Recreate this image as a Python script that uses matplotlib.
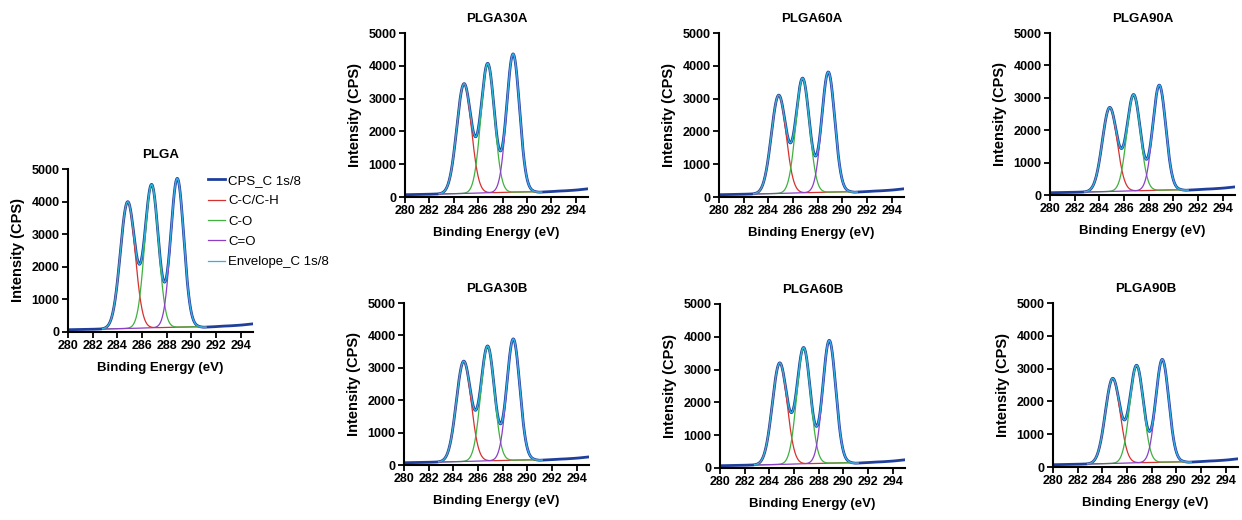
import numpy as np
import matplotlib
matplotlib.use("Agg")
import matplotlib.pyplot as plt

plt.rcParams['font.family'] = ['Liberation Sans', 'DejaVu Sans']

# ---- data ----
panels = ['PLGA', 'PLGA30A', 'PLGA60A', 'PLGA90A', 'PLGA30B', 'PLGA60B', 'PLGA90B']

# fitted C 1s components: C-C/C-H, C-O, C=O (peak centre and FWHM, eV)
peak_centers = [284.84, 286.78, 288.86]
peak_fwhm = [1.40, 1.30, 1.24]

# net peak heights above background (CPS)
heights_cc = [3880, 3340, 2990, 2590, 3090, 3090, 2590]
heights_co = [4380, 3930, 3480, 2960, 3530, 3530, 2960]
heights_c_o = [4560, 4210, 3660, 3240, 3740, 3740, 3130]

# background under the spectrum (CPS), 0.5 eV steps from 280 to 295
bg_energy = np.arange(280, 295.01, 0.5)
bg_cps = [70, 75, 78, 80, 85, 88, 92, 95, 100, 105, 110, 115, 120, 125, 130, 135,
          140, 145, 150, 155, 160, 160, 145, 160, 165, 180, 185, 200, 210, 230, 250]

fit_range = (282.8, 291.2)

legend_labels = ['CPS_C 1s/8', 'C-C/C-H', 'C-O', 'C=O', 'Envelope_C 1s/8']
colors = {'cps': '#1f3f9a', 'cc': '#d6312f', 'co': '#3fb13f', 'c_o': '#8a3fc4', 'env': '#27b6e6'}

W, H = 1242, 520
# axes boxes in pixels: left, top, right, bottom
boxes = [(68, 169, 253, 332),
         (405, 33, 588, 197), (719, 33, 904, 197), (1050, 33, 1235, 195),
         (404, 303, 589, 465), (720, 304, 905, 468), (1053, 303, 1238, 467)]


def peak(x, c, fwhm, h):
    s = fwhm / 2.3548
    return h * np.exp(-(x - c) ** 2 / (2 * s ** 2))


fig = plt.figure(figsize=(W / 100, H / 100), dpi=100)
x = np.linspace(280, 295, 1200)
bg = np.interp(x, bg_energy, bg_cps)
m = (x >= fit_range[0]) & (x <= fit_range[1])

for i, name in enumerate(panels):
    l, t, r, b = boxes[i]
    ax = fig.add_axes([l / W, 1 - b / H, (r - l) / W, (b - t) / H])
    hs = [heights_cc[i], heights_co[i], heights_c_o[i]]
    comps = [peak(x, peak_centers[k], peak_fwhm[k], hs[k]) for k in range(3)]
    env = bg + comps[0] + comps[1] + comps[2]

    l_cps, = ax.plot(x, env, color=colors['cps'], lw=2.0)
    l_cc, = ax.plot(x[m], (bg + comps[0])[m], color=colors['cc'], lw=0.9)
    l_co, = ax.plot(x[m], (bg + comps[1])[m], color=colors['co'], lw=0.9)
    l_c_o, = ax.plot(x[m], (bg + comps[2])[m], color=colors['c_o'], lw=0.9)
    l_env, = ax.plot(x[m], env[m], color=colors['env'], lw=0.9)

    ax.set_xlim(280, 295)
    ax.set_ylim(0, 5000)
    ax.set_xticks(np.arange(280, 295, 2))
    ax.set_yticks(np.arange(0, 5001, 1000))
    for s in ['top', 'right']:
        ax.spines[s].set_visible(False)
    for s in ['left', 'bottom']:
        ax.spines[s].set_linewidth(1.5)
    ax.tick_params(width=1.3, length=4, labelsize=9, pad=2)
    for lab in ax.get_xticklabels() + ax.get_yticklabels():
        lab.set_fontweight('bold')
    ax.set_title(name, fontsize=9.5, fontweight='bold', pad=8)
    ax.set_xlabel('Binding Energy (eV)', fontsize=9.5, fontweight='bold', labelpad=7)
    ax.set_ylabel('Intensity (CPS)', fontsize=10.5, fontweight='bold', labelpad=5)

    if i == 0:
        fig.legend([l_cps, l_cc, l_co, l_c_o, l_env], legend_labels,
                   loc='upper left', bbox_to_anchor=(201 / W, 1 - 168 / H),
                   frameon=False, fontsize=9.5, borderpad=0, handlelength=1.3,
                   handletextpad=0.25, labelspacing=0.62)

fig.savefig('out.png', dpi=100)
